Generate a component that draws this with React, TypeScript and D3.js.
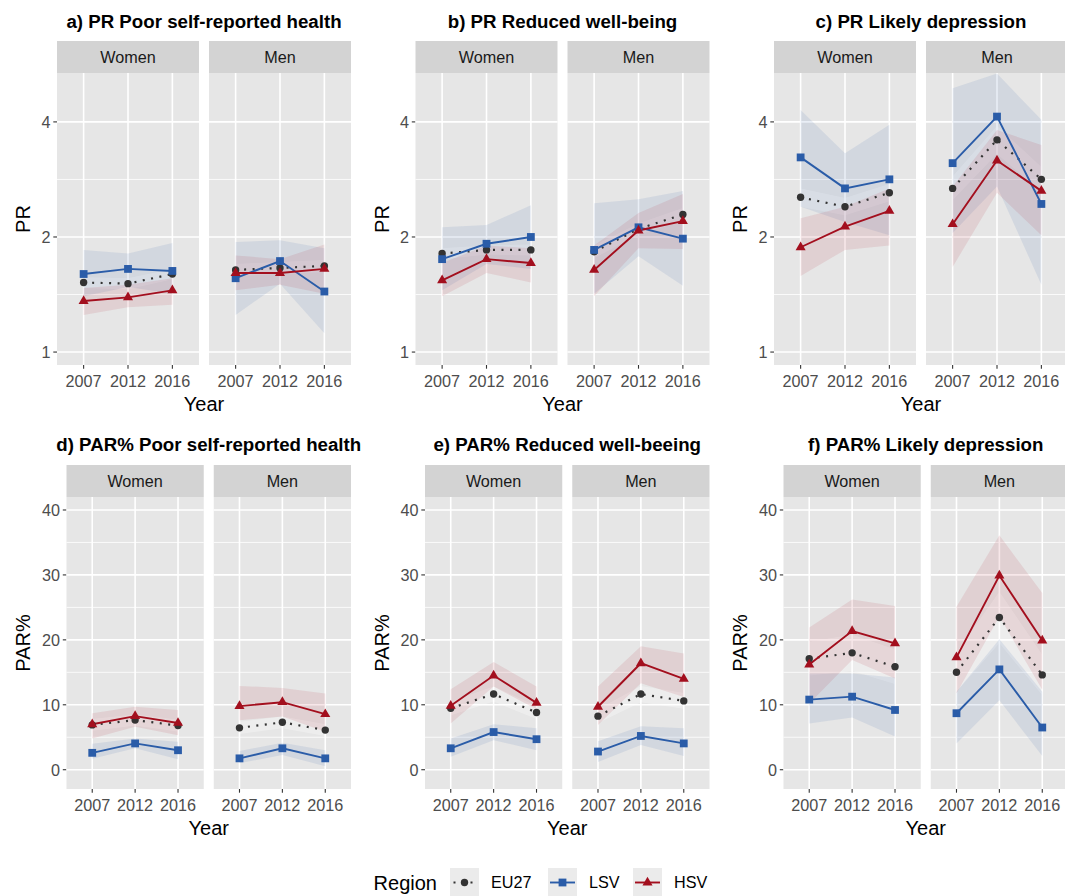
import { useEffect, useRef } from "react";
import * as d3 from "d3";

const YEARS = ["2007", "2012", "2016"];
const SEXES = ["Women", "Men"];
const REGIONS = ["EU27", "LSV", "HSV"];
const TITLES = [
  "a) PR Poor self-reported health",
  "b) PR Reduced well-being",
  "c) PR Likely depression",
  "d) PAR% Poor self-reported health",
  "e) PAR% Reduced well-beeing",
  "f) PAR% Likely depression",
];
const PR_TICKS = [1, 2, 4];
const PAR_TICKS = [0, 10, 20, 30, 40];

// values as [sex][region][year]  (Women/Men, EU27/LSV/HSV, 2007/2012/2016)
const A_EST = [[[1.52, 1.51, 1.60], [1.60, 1.65, 1.63], [1.36, 1.39, 1.45]], [[1.64, 1.66, 1.68], [1.56, 1.73, 1.44], [1.61, 1.61, 1.65]]];
const A_LO = [[[1.47, 1.46, 1.55], [1.40, 1.48, 1.42], [1.25, 1.31, 1.33]], [[1.58, 1.60, 1.62], [1.25, 1.51, 1.12], [1.45, 1.50, 1.42]]];
const A_HI = [[[1.57, 1.56, 1.65], [1.85, 1.81, 1.93], [1.47, 1.50, 1.56]], [[1.70, 1.72, 1.74], [1.94, 1.96, 1.87], [1.79, 1.75, 1.91]]];

const B_EST = [[[1.81, 1.85, 1.85], [1.75, 1.92, 2.00], [1.54, 1.75, 1.71]], [[1.83, 2.10, 2.29], [1.85, 2.12, 1.98], [1.64, 2.08, 2.20]]];
const B_LO = [[[1.75, 1.80, 1.79], [1.45, 1.70, 1.65], [1.40, 1.61, 1.52]], [[1.76, 2.03, 2.20], [1.42, 1.78, 1.49], [1.40, 1.87, 1.86]]];
const B_HI = [[[1.87, 1.90, 1.91], [2.12, 2.15, 2.42], [1.71, 1.90, 1.87]], [[1.90, 2.17, 2.38], [2.45, 2.51, 2.64], [1.90, 2.31, 2.59]]];

const C_EST = [[[2.54, 2.40, 2.61], [3.23, 2.68, 2.83], [1.88, 2.13, 2.34]], [[2.68, 3.59, 2.83], [3.12, 4.13, 2.44], [2.16, 3.17, 2.64]]];
const C_LO = [[[2.40, 2.28, 2.48], [2.40, 2.19, 2.02], [1.58, 1.85, 1.90]], [[2.50, 3.30, 2.62], [2.05, 2.71, 1.50], [1.67, 2.61, 2.02]]];
const C_HI = [[[2.68, 2.53, 2.75], [4.30, 3.31, 3.93], [2.24, 2.40, 2.68]], [[2.88, 3.90, 3.05], [4.90, 5.35, 4.05], [2.71, 3.81, 3.48]]];

const D_EST = [[[6.9, 7.65, 6.8], [2.6, 4.05, 3.0], [7.0, 8.25, 7.2]], [[6.45, 7.3, 6.1], [1.75, 3.3, 1.75], [9.8, 10.4, 8.55]]];
const D_LO = [[[6.0, 6.8, 5.9], [1.7, 3.3, 1.6], [4.8, 6.6, 5.3]], [[5.5, 6.4, 5.2], [1.0, 2.25, 0.55], [7.6, 8.2, 5.85]]];
const D_HI = [[[7.8, 8.5, 7.7], [4.0, 4.8, 4.3], [8.7, 9.7, 9.2]], [[7.4, 8.2, 7.0], [2.9, 4.15, 3.0], [12.9, 12.6, 11.75]]];

const E_EST = [[[9.45, 11.65, 8.8], [3.3, 5.8, 4.7], [9.85, 14.5, 10.3]], [[8.25, 11.65, 10.6], [2.8, 5.2, 4.05], [9.7, 16.4, 14.0]]];
const E_LO = [[[8.4, 10.5, 7.8], [2.0, 4.55, 3.0], [7.1, 12.8, 9.3]], [[7.2, 10.4, 9.4], [1.2, 3.8, 2.1], [6.9, 13.3, 11.2]]];
const E_HI = [[[10.5, 12.8, 9.8], [4.8, 7.0, 6.4], [12.4, 16.6, 12.8]], [[9.3, 12.9, 11.8], [4.4, 6.7, 6.4], [12.8, 19.0, 17.9]]];

const F_EST = [[[17.1, 18.0, 15.85], [10.8, 11.25, 9.2], [16.2, 21.35, 19.45]], [[15.0, 23.45, 14.6], [8.7, 15.45, 6.5], [17.3, 29.9, 19.9]]];
const F_LO = [[[14.5, 15.2, 13.2], [7.1, 8.05, 5.1], [10.2, 16.9, 14.05]], [[12.0, 19.5, 11.5], [4.05, 10.7, 2.1], [11.75, 23.6, 12.3]]];
const F_HI = [[[19.7, 20.8, 18.5], [14.8, 14.8, 14.2], [21.9, 26.2, 25.2]], [[18.0, 27.4, 17.7], [12.0, 20.1, 12.0], [25.1, 36.1, 27.2]]];

const EST = [A_EST, B_EST, C_EST, D_EST, E_EST, F_EST];
const LO = [A_LO, B_LO, C_LO, D_LO, E_LO, F_LO];
const HI = [A_HI, B_HI, C_HI, D_HI, E_HI, F_HI];

const COLORS = ["#333333", "#2A5CA8", "#A30F1E"];
const RIBBON = ["#FFFFFF", "#2A5CA8", "#B0182A"];
const RIBBON_OP = [0.3, 0.1, 0.1];
const FONT = "'Liberation Sans', Arial, Helvetica, sans-serif";
const PANEL_BG = "#E6E6E6";
const STRIP_BG = "#D3D3D3";

export default function App() {
  const ref = useRef<SVGSVGElement>(null);

  useEffect(() => {
    if (!ref.current) return;
    document.body.style.margin = "0";
    const W = 1065, H = 896;
    const svg = d3.select(ref.current).attr("width", W).attr("height", H);
    svg.selectAll("*").remove();
    svg.append("rect").attr("width", W).attr("height", H).attr("fill", "white");
    const defs = svg.append("defs");

    const COL_W = 358.5, GAP = 10, STRIP_H = 32, PANEL_H = 292;

    const drawSymbol = (g: any, region: number, x: number, yy: number) => {
      if (region === 0) {
        g.append("circle").attr("cx", x).attr("cy", yy).attr("r", 3.7).attr("fill", COLORS[0]);
      } else if (region === 1) {
        g.append("rect").attr("x", x - 3.9).attr("y", yy - 3.9).attr("width", 7.8).attr("height", 7.8).attr("fill", COLORS[1]);
      } else {
        g.append("path").attr("d", d3.symbol(d3.symbolTriangle, 44)()).attr("transform", `translate(${x},${yy})`).attr("fill", COLORS[2]);
      }
    };

    for (let k = 0; k < 6; k++) {
      const col = k % 3, row = Math.floor(k / 3);
      const cx = col * COL_W;
      const left = cx + (row === 0 ? 57 : 66.5);
      const right = cx + 351;
      const pw = (right - left - GAP) / 2;
      const stripTop = row === 0 ? 41 : 465;
      const pTop = stripTop + STRIP_H;
      const pBot = pTop + PANEL_H;
      const isLog = row === 0;
      const y: any = isLog
        ? d3.scaleLog().domain([0.925, 5.37]).range([pBot, pTop])
        : d3.scaleLinear().domain([-2.97, 42]).range([pBot, pTop]);
      const ticks = isLog ? PR_TICKS : PAR_TICKS;
      const minor = isLog ? [Math.SQRT2, 2 * Math.SQRT2] : [5, 15, 25, 35];

      // title
      svg.append("text").attr("x", (left + right) / 2).attr("y", (row === 0 ? 21 : 444) + 6.7)
        .attr("text-anchor", "middle").attr("font-family", FONT).attr("font-weight", 700)
        .attr("font-size", 18.7).attr("fill", "black").text(TITLES[k]);

      // y axis title
      svg.append("text").attr("transform", `translate(${cx + 23 + 7},${(pTop + pBot) / 2})rotate(-90)`)
        .attr("text-anchor", "middle").attr("font-family", FONT).attr("font-size", 20)
        .attr("fill", "black").text(isLog ? "PR" : "PAR%");

      // y ticks (left facet only)
      ticks.forEach(t => {
        svg.append("line").attr("x1", left - 3.7).attr("x2", left).attr("y1", y(t)).attr("y2", y(t))
          .attr("stroke", "#333333").attr("stroke-width", 1.1);
        svg.append("text").attr("x", left - 6.5).attr("y", y(t) + 5.8).attr("text-anchor", "end")
          .attr("font-family", FONT).attr("font-size", 16.2).attr("fill", "#4D4D4D").text(String(t));
      });

      // x axis title
      svg.append("text").attr("x", (left + right) / 2).attr("y", pBot + 39 + 7)
        .attr("text-anchor", "middle").attr("font-family", FONT).attr("font-size", 20)
        .attr("fill", "black").text("Year");

      SEXES.forEach((sex, s) => {
        const x0 = left + s * (pw + GAP);
        const x = d3.scalePoint<string>().domain(YEARS).range([x0, x0 + pw]).padding(0.6);
        const g = svg.append("g");
        const clipId = `clip-${k}-${s}`;
        defs.append("clipPath").attr("id", clipId).append("rect")
          .attr("x", x0).attr("y", pTop).attr("width", pw).attr("height", PANEL_H);

        g.append("rect").attr("x", x0).attr("y", pTop).attr("width", pw).attr("height", PANEL_H).attr("fill", PANEL_BG);
        minor.forEach(m => {
          g.append("line").attr("x1", x0).attr("x2", x0 + pw).attr("y1", y(m)).attr("y2", y(m))
            .attr("stroke", "white").attr("stroke-width", 0.8);
        });
        ticks.forEach(t => {
          g.append("line").attr("x1", x0).attr("x2", x0 + pw).attr("y1", y(t)).attr("y2", y(t))
            .attr("stroke", "white").attr("stroke-width", 1.6);
        });
        YEARS.forEach(yr => {
          g.append("line").attr("x1", x(yr)!).attr("x2", x(yr)!).attr("y1", pTop).attr("y2", pBot)
            .attr("stroke", "white").attr("stroke-width", 1.6);
          g.append("line").attr("x1", x(yr)!).attr("x2", x(yr)!).attr("y1", pBot).attr("y2", pBot + 3.7)
            .attr("stroke", "#333333").attr("stroke-width", 1.1);
          g.append("text").attr("x", x(yr)!).attr("y", pBot + 16 + 5.8).attr("text-anchor", "middle")
            .attr("font-family", FONT).attr("font-size", 16.2).attr("fill", "#4D4D4D").text(yr);
        });

        // strip
        g.append("rect").attr("x", x0).attr("y", stripTop).attr("width", pw).attr("height", STRIP_H).attr("fill", STRIP_BG);
        g.append("text").attr("x", x0 + pw / 2).attr("y", stripTop + STRIP_H / 2 + 5.8).attr("text-anchor", "middle")
          .attr("font-family", FONT).attr("font-size", 16.2).attr("fill", "#1A1A1A").text(sex);

        const data = g.append("g").attr("clip-path", `url(#${clipId})`);
        REGIONS.forEach((_, r) => {
          const area = d3.area<number>()
            .x((_, i) => x(YEARS[i])!)
            .y0((_, i) => y(LO[k][s][r][i]))
            .y1((_, i) => y(HI[k][s][r][i]));
          data.append("path").attr("d", area(YEARS.map((_, i) => i)))
            .attr("fill", RIBBON[r]).attr("fill-opacity", RIBBON_OP[r]);
        });
        REGIONS.forEach((_, r) => {
          const line = d3.line<number>().x((_, i) => x(YEARS[i])!).y(v => y(v));
          data.append("path").attr("d", line(EST[k][s][r]))
            .attr("fill", "none").attr("stroke", COLORS[r]).attr("stroke-width", r === 0 ? 2.2 : 1.9)
            .attr("stroke-dasharray", r === 0 ? "2 6.5" : null);
        });
        REGIONS.forEach((_, r) => {
          EST[k][s][r].forEach((v, i) => drawSymbol(data, r, x(YEARS[i])!, y(v)));
        });
      });
    }

    // legend
    const lg = svg.append("g");
    lg.append("text").attr("x", 437).attr("y", 883 + 7).attr("text-anchor", "end")
      .attr("font-family", FONT).attr("font-size", 20).attr("fill", "black").text("Region");
    const keyX = [450, 548, 633];
    REGIONS.forEach((name, r) => {
      const kx = keyX[r], ky = 868, ks = 29;
      lg.append("rect").attr("x", kx).attr("y", ky).attr("width", ks).attr("height", ks).attr("fill", "#EBEBEB");
      lg.append("line").attr("x1", kx + 2).attr("x2", kx + ks - 2).attr("y1", ky + ks / 2).attr("y2", ky + ks / 2)
        .attr("stroke", COLORS[r]).attr("stroke-width", r === 0 ? 2.2 : 1.9)
        .attr("stroke-dasharray", r === 0 ? "2 6.5" : null)
        .attr("stroke-dashoffset", r === 0 ? -1.5 : null);
      drawSymbol(lg, r, kx + ks / 2, ky + ks / 2);
      lg.append("text").attr("x", kx + ks + 12).attr("y", ky + ks / 2 + 5.8)
        .attr("font-family", FONT).attr("font-size", 16.2).attr("fill", "black").text(name);
    });
  }, []);

  return <svg ref={ref} style={{ display: "block" }} />;
}
